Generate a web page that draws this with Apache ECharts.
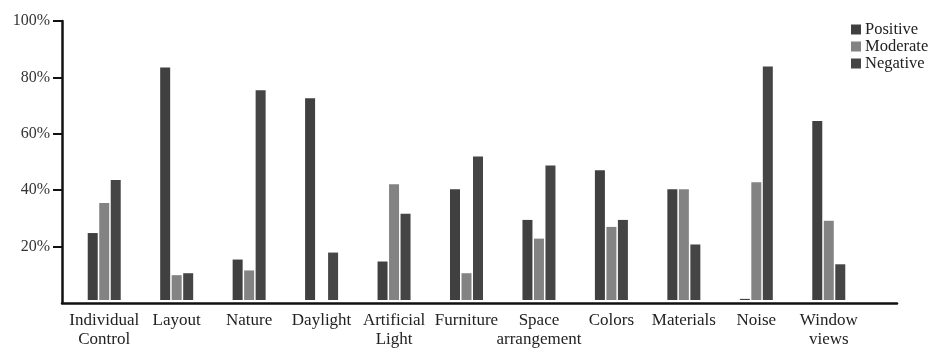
<!DOCTYPE html>
<html>
<head>
<meta charset="utf-8">
<script src="https://cdn.jsdelivr.net/npm/echarts@6/dist/echarts.min.js"></script>
<style>
  html, body { margin: 0; padding: 0; background: #fff; }
  #chart { width: 931px; height: 349px; }
</style>
</head>
<body>
<div id="chart"></div>
<script>
// categories and percentages
const categories = ['Individual\nControl', 'Layout', 'Nature', 'Daylight', 'Artificial\nLight',
  'Furniture', 'Space\narrangement', 'Colors', 'Materials', 'Noise', 'Window\nviews'];
const positive = [24, 83.3, 14.5, 72.3, 13.8, 39.7, 28.7, 46.5, 39.7, 0.4, 64.2];
const moderate = [34.8, 8.9, 10.6, 0, 41.5, 9.6, 22, 26.2, 39.7, 42.2, 28.4];
const negative = [43, 9.6, 75.2, 17, 30.9, 51.4, 48.2, 28.7, 19.9, 83.7, 12.8];
const yTicks = [0, 20, 40, 60, 80, 100];

const serif = 'Liberation Serif';
const chart = echarts.init(document.getElementById('chart'));

function bar(name, data, color) {
    return {
        name: name,
        type: 'bar',
        xAxisIndex: 1,
        yAxisIndex: 1,
        data: data,
        barWidth: 10,
        barGap: '15%',
        itemStyle: { color: color },
        animation: false
    };
}

const option = {
    backgroundColor: '#fff',
    legend: {
        orient: 'vertical',
        left: 846,
        top: 16,
        itemWidth: 10,
        itemHeight: 10,
        itemGap: 0,
        icon: 'rect',
        textStyle: { fontFamily: serif, fontSize: 16.5, color: '#222', padding: [0, 0, 0, -1] },
        data: ['Positive', 'Moderate', 'Negative']
    },
    grid: [
        // axes frame (y axis + long baseline)
        { left: 62, right: 34, top: 21, bottom: 46 },
        // bars
        { left: 68, right: 66, top: 21, bottom: 46 }
    ],
    xAxis: [
        {
            type: 'value', gridIndex: 0, min: 0, max: 1,
            axisLine: { show: true, lineStyle: { color: '#111', width: 2.5 } },
            axisTick: { show: false }, axisLabel: { show: false }, splitLine: { show: false }
        },
        {
            type: 'category', gridIndex: 1, data: categories,
            axisLine: { show: false }, axisTick: { show: false },
            axisLabel: {
                interval: 0, margin: 11, fontFamily: serif, fontSize: 17,
                lineHeight: 19, color: '#222', verticalAlign: 'top'
            }
        }
    ],
    yAxis: [
        {
            type: 'value', gridIndex: 0, min: yTicks[0], max: yTicks[yTicks.length - 1], interval: 20,
            axisLine: { show: true, lineStyle: { color: '#111', width: 2.5 } },
            axisTick: {
                show: true, length: 9, customValues: yTicks.slice(1),
                lineStyle: { color: '#111', width: 2 }
            },
            axisLabel: {
                margin: 12, fontFamily: serif, fontSize: 16, color: '#333',
                formatter: v => v === 0 ? '' : v + '%'
            },
            splitLine: { show: false }
        },
        {
            type: 'value', gridIndex: 1, min: 0, max: 100, show: false
        }
    ],
    series: [
        bar('Positive', positive, '#404040'),
        bar('Moderate', moderate, '#838383'),
        bar('Negative', negative, '#454545')
    ]
};
chart.setOption(option);
</script>
</body>
</html>
